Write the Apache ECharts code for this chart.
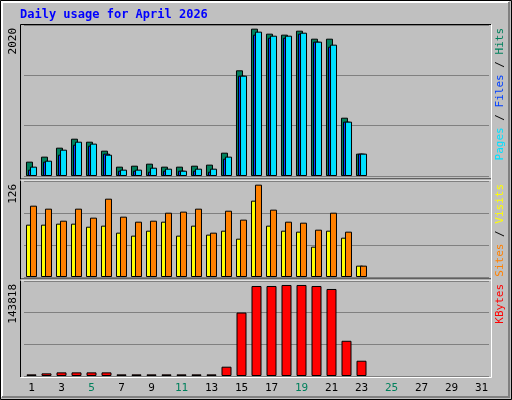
<!DOCTYPE html>
<html><head><meta charset="utf-8">
<script src="https://cdn.jsdelivr.net/npm/echarts@6/dist/echarts.min.js"></script>
<style>html,body{margin:0;padding:0;background:#c0c0c0}#c{width:512px;height:400px}</style>
</head><body><div id="c"></div>
<script>
const days = Array.from({ length: 31 }, (_, i) => String(i + 1));
const weekendDays = ['4', '5', '11', '12', '18', '19', '25', '26'];
const hits = [192, 259, 379, 499, 459, 339, 125, 138, 165, 125, 125, 138, 152, 312, 1414, 1971, 1904, 1891, 1944, 1837, 1837, 780, 299];
const files = [85, 192, 285, 419, 406, 299, 71, 71, 58, 71, 71, 71, 58, 232, 1342, 1891, 1850, 1850, 1904, 1797, 1730, 727, 299];
const pages = [125, 205, 352, 459, 433, 285, 85, 85, 111, 98, 71, 98, 98, 259, 1342, 1931, 1877, 1877, 1917, 1797, 1757, 727, 299];
const visits = [68.7, 68.7, 70, 70, 66, 67.4, 58.2, 54.3, 60.8, 72.6, 54.3, 67.4, 55.6, 60.8, 50.3, 100.2, 67.4, 60.8, 59.5, 39.8, 60.8, 51.6, 14.9];
const sites = [93.6, 89.7, 73.9, 89.7, 77.9, 102.8, 79.2, 72.6, 73.9, 84.4, 85.8, 89.7, 58.2, 87, 75.3, 121.2, 88.4, 72.6, 71.3, 62.1, 84.4, 59.5, 14.9];
const kbytes = [2500, 4000, 5500, 5500, 5500, 5500, 2500, 2500, 2500, 2500, 2500, 2500, 2500, 14080, 96050, 136270, 136270, 137800, 137800, 136270, 131750, 53300, 23130];
const maxHits = 2020, maxSites = 126, maxKb = 143818;

const chart = echarts.init(document.getElementById('c'));
const font = 'DejaVu Sans Mono, monospace';
const grids = [
  { left: 24, width: 465, top: 25, height: 151 },
  { left: 24, width: 465, top: 181, height: 96 },
  { left: 24, width: 465, top: 281, height: 95 }
];
const xAxis = grids.map((g, i) => ({
  type: 'category', gridIndex: i, data: days,
  axisLine: { show: false }, axisTick: { show: false },
  axisLabel: i === 2 ? {
    show: true, fontFamily: font, fontSize: 11, margin: 7,
    color: (v) => weekendDays.includes(v) ? '#00805c' : '#000'
  } : { show: false }
}));
const yAxis = [maxHits, maxSites, maxKb].map((m, i) => ({
  type: 'value', gridIndex: i, min: 0, max: m, interval: m / 3,
  axisLabel: { show: false }, axisLine: { show: false }, axisTick: { show: false },
  splitLine: { show: true, lineStyle: { color: '#808080', width: 1 } }
}));
const bar = (name, data, color, gi, w, gap) => ({
  name, type: 'bar', xAxisIndex: gi, yAxisIndex: gi, data, barWidth: w, barGap: gap,
  itemStyle: { color, borderColor: '#000', borderWidth: 1 }, animation: false
});
const vlabel = (x, y, parts) => ({
  type: 'text', x, y, rotation: Math.PI / 2,
  style: { rich: {}, text: parts.map(p => `{${p[1]}|${p[0]}}`).join(''), font: `11px ${font}` }
});
function richText(x, y, parts) {
  const rich = {};
  parts.forEach(([t, c], i) => { rich['s' + i] = { fill: c, fontFamily: font, fontSize: 11 }; });
  return {
    type: 'text', x, y, rotation: Math.PI / 2, z: 10,
    style: { text: parts.map(([t], i) => `{s${i}|${t}}`).join(''), rich, align: 'right', verticalAlign: 'top' }
  };
}
chart.setOption({
  backgroundColor: '#c0c0c0',
  grid: grids,
  xAxis, yAxis,
  series: [
    bar('Hits', hits, '#00805c', 0, 7, '-71%'),
    bar('Files', files, '#0040ff', 0, 7, '-71%'),
    bar('Pages', pages, '#00e0ff', 0, 7, '-71%'),
    bar('Visits', visits, '#ffff00', 1, 7, '-43%'),
    bar('Sites', sites, '#ff8000', 1, 7, '-43%'),
    bar('KBytes', kbytes, '#ff0000', 2, 10, '0%')
  ],
  graphic: [
    { type: 'rect', shape: { x: 0.5, y: 0.5, width: 511, height: 399 }, style: { fill: 'none', stroke: '#000' }, silent: true },
    { type: 'polyline', shape: { points: [[2, 397], [2, 2], [509, 2]] }, style: { stroke: '#fff', lineWidth: 2, fill: 'none' } },
    { type: 'polyline', shape: { points: [[2, 397], [509, 397], [509, 2]] }, style: { stroke: '#808080', lineWidth: 2, fill: 'none' } },
    { type: 'polyline', shape: { points: [[20.5, 377], [20.5, 24.5], [491, 24.5]] }, style: { stroke: '#000', fill: 'none' } },
    { type: 'polyline', shape: { points: [[20.5, 377.5], [491.5, 377.5], [491.5, 24.5]] }, style: { stroke: '#fff', fill: 'none' } },
    { type: 'line', shape: { x1: 20, y1: 179, x2: 491, y2: 179 }, style: { stroke: '#000' } },
    { type: 'line', shape: { x1: 20, y1: 180, x2: 491, y2: 180 }, style: { stroke: '#fff' } },
    { type: 'line', shape: { x1: 20, y1: 279, x2: 491, y2: 279 }, style: { stroke: '#000' } },
    { type: 'line', shape: { x1: 20, y1: 280, x2: 491, y2: 280 }, style: { stroke: '#fff' } },
    { type: 'text', x: 20, y: 9, style: { text: 'Daily usage for April 2026', fill: '#0000ff', font: `bold 12px ${font}` } },
    richText(8, 28, [[String(maxHits), '#000']]),
    richText(8, 184, [[String(maxSites), '#000']]),
    richText(8, 284, [[String(maxKb), '#000']]),
    richText(495, 28, [['Pages', '#00e0ff'], [' / ', '#000'], ['Files', '#0040ff'], [' / ', '#000'], ['Hits', '#00805c']]),
    richText(495, 184, [['Sites', '#ff8000'], [' / ', '#000'], ['Visits', '#ffff00']]),
    richText(495, 284, [['KBytes', '#ff0000']])
  ]
});
</script></body></html>
